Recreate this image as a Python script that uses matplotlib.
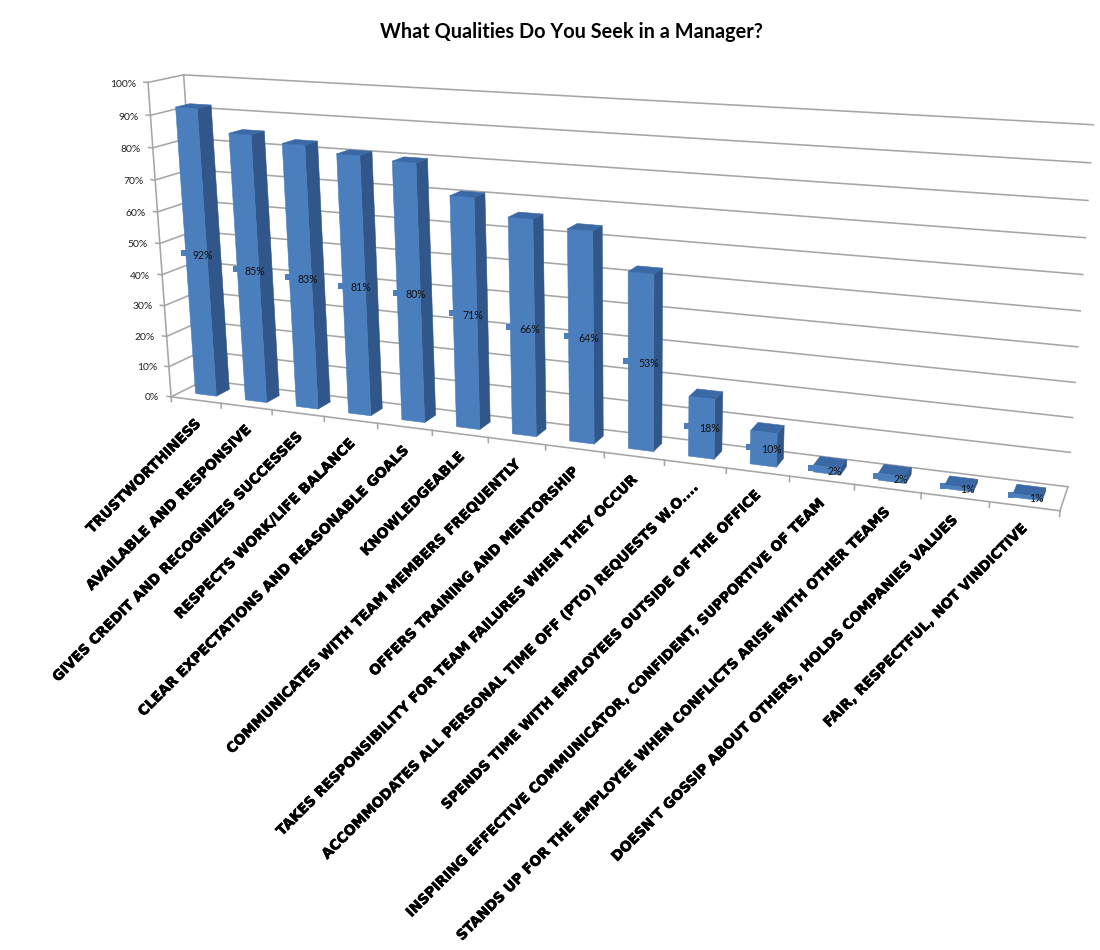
import numpy as np
import matplotlib
matplotlib.use("Agg")
import matplotlib.pyplot as plt
import matplotlib.patheffects as pe
from mpl_toolkits.mplot3d import Axes3D

title = "What Qualities Do You Seek in a Manager?"
categories = [
    "TRUSTWORTHINESS",
    "AVAILABLE AND RESPONSIVE",
    "GIVES CREDIT AND RECOGNIZES SUCCESSES",
    "RESPECTS WORK/LIFE BALANCE",
    "CLEAR EXPECTATIONS AND REASONABLE GOALS",
    "KNOWLEDGEABLE",
    "COMMUNICATES WITH TEAM MEMBERS FREQUENTLY",
    "OFFERS TRAINING AND MENTORSHIP",
    "TAKES RESPONSIBILITY FOR TEAM FAILURES WHEN THEY OCCUR",
    "ACCOMMODATES ALL PERSONAL TIME OFF (PTO) REQUESTS W.O....",
    "SPENDS TIME WITH EMPLOYEES OUTSIDE OF THE OFFICE",
    "INSPIRING EFFECTIVE COMMUNICATOR, CONFIDENT, SUPPORTIVE OF TEAM",
    "STANDS UP FOR THE EMPLOYEE WHEN CONFLICTS ARISE WITH OTHER TEAMS",
    "DOESN'T GOSSIP ABOUT OTHERS, HOLDS COMPANIES VALUES",
    "FAIR, RESPECTFUL, NOT VINDICTIVE",
]
values = [92, 85, 83, 81, 80, 71, 66, 64, 53, 18, 10, 2, 2, 1, 1]
z_ticks = list(range(0, 101, 10))

# camera calibration: (band, depth, percent) seen at (pixel x, pixel y)
world_pts = np.array([
    (0, 0, 0), (0, 0, 100), (0, 1, 100), (0, 1, 0),
    (15, 1, 0), (15, 1, 100), (15, 0, 0),
    (15, 1, 90), (15, 1, 80), (15, 1, 70), (15, 1, 60), (15, 1, 20), (15, 1, 10),
    (1, 0, 0), (2, 0, 0), (8, 0, 0), (9, 0, 0), (10, 0, 0), (11, 0, 0),
    (12, 0, 0), (13, 0, 0), (14, 0, 0),
    (0, 0, 90), (0, 0, 80), (0, 0, 70), (0, 0, 60), (0, 0, 50),
    (0, 0, 40), (0, 0, 30), (0, 0, 20), (0, 0, 10),
], dtype=float)
pixel_pts = np.array([
    (171, 397), (149, 83), (183, 75), (205, 380),
    (1068, 487), (1093, 125), (1060, 511),
    (1091, 163), (1088, 200), (1085, 238), (1083, 274), (1073, 418), (1070, 452),
    (222, 403.5), (272, 410), (604, 452.5), (665, 460), (726, 468), (790, 476),
    (854, 484), (921, 493), (990, 502),
    (151, 115), (153, 147), (155, 180), (157, 212), (159, 244),
    (162, 275), (164, 305), (166, 336), (169, 367),
], dtype=float)


def fit_camera(w, p):
    rows, rhs = [], []
    for (x, y, z), (u, v) in zip(w, p):
        rows.append([x, y, z, 1, 0, 0, 0, 0, -u * x, -u * y, -u * z]); rhs.append(u)
        rows.append([0, 0, 0, 0, x, y, z, 1, -v * x, -v * y, -v * z]); rhs.append(v)
    a = np.array(rows)
    scale = np.abs(a).max(axis=0)
    sol = np.linalg.lstsq(a / scale, np.array(rhs), rcond=None)[0] / scale
    return np.append(sol, 1.0).reshape(3, 4)


CAMERA = fit_camera(world_pts, pixel_pts)
W, H = 1100, 950


def to_fig(x, y, z):
    u, v, w = CAMERA @ np.array([x, y, z, 1.0])
    return u / w / W, 1 - v / w / H


class FixedCamera3D(Axes3D):
    def apply_aspect(self, position=None):
        pass

    def get_proj(self):
        t = self.transData.get_affine().get_matrix()
        flip = np.array([[1, 0, 0], [0, -1, H], [0, 0, 1]], dtype=float)
        p = np.linalg.inv(t) @ flip @ CAMERA
        return np.array([p[0], p[1], [0, 0, 0, -1.0], p[2]])


fig = plt.figure(figsize=(W / 100, H / 100), dpi=100, facecolor="white")
ax = FixedCamera3D(fig, [0, 0, 1, 1], computed_zorder=False)
fig.add_axes(ax)
ax.set_axis_off()

LINE = "#a6a6a6"
FRONT = "#4a7ebc"
SIDE = "#30568a"
TOP = "#3b69a6"
NONE = (0, 0, 0, 0)
n = len(values)


def seg(p, q, **kw):
    ax.plot([p[0], q[0]], [p[1], q[1]], [p[2], q[2]], color=LINE, lw=1.15,
            zorder=1, clip_on=False, **kw)


for z in z_ticks:
    seg((0, 0, z), (0, 1, z))
    seg((0, 1, z), (n, 1, z))
    seg((-0.08, 0, z), (0, 0, z))
    fx, fy = to_fig(-0.24, 0, z - 0.8)
    fig.text(fx, fy, f"{z}%", ha="right", va="center", fontsize=7.5,
             family="Lato", color="#222222")
seg((0, 0, 0), (0, 0, 100))
seg((0, 1, 0), (0, 1, 100))
seg((0, 0, 0), (n, 0, 0))
seg((n, 0, 0), (n, 1, 0))
for k in range(n + 1):
    seg((k, 0, 0), (k, 0, -1.6))

xs = np.arange(n) + 0.5
bar_w, bar_d, y_front = 0.42, 0.4, 0.3
colors = []
for _ in range(n):
    colors += [NONE, TOP, FRONT, NONE, NONE, SIDE]
ax.bar3d(xs - bar_w / 2, np.full(n, y_front), np.zeros(n), bar_w, bar_d, values,
         color=colors, shade=False, linewidth=0.4, edgecolors=colors, zorder=3,
         zsort="average")

for x, v in zip(xs, values):
    ax.plot([x - bar_w / 2 - 0.03], [y_front], [v / 2], marker="s", ms=4.4,
            color=FRONT, mew=0, ls="none", zorder=2.5)
    fx, fy = to_fig(x + 0.13, y_front, v / 2)
    fig.text(fx, fy, f"{v}%", ha="center", va="center", fontsize=7.6,
             family="Lato", color="#111111")

for i, (x, label) in enumerate(zip(xs, categories)):
    fx, fy = to_fig(x + 0.03, 0, -7.0 + 1.5 * i / (n - 1))
    fig.text(fx, fy, label, rotation=45, rotation_mode="anchor",
             ha="right", va="center", fontsize=10, fontweight="bold",
             family="DejaVu Sans", color="black",
             path_effects=[pe.withStroke(linewidth=0.5, foreground="black")])

fig.text(571 / W, 1 - 32 / H, title, ha="center", va="center", fontsize=14.3,
         fontweight="bold", family="Lato", color="black")

fig.savefig("out.png", dpi=100, facecolor="white")
